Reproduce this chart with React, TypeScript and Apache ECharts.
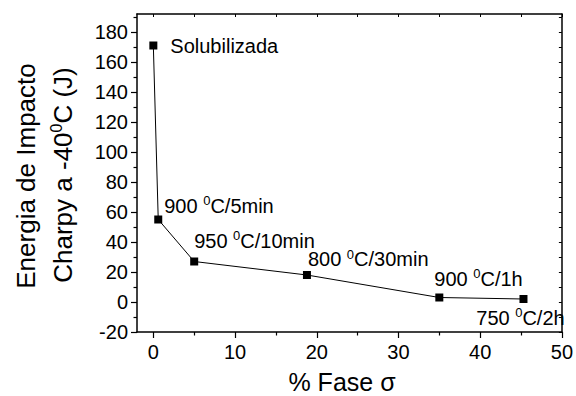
import React, { useEffect, useRef } from "react";
import * as echarts from "echarts";

const phaseFraction = [0, 0.6, 5, 18.8, 35, 45.3];
const impactEnergy = [171, 55, 27, 18, 3, 2];
const pointLabels = [
  "Solubilizada",
  "900 {s|0}C/5min",
  "950 {s|0}C/10min",
  "800 {s|0}C/30min",
  "900 {s|0}C/1h",
  "750 {s|0}C/2h",
];
const xMajorTicks = [0, 10, 20, 30, 40, 50];
const xMinorTicks = [5, 15, 25, 35, 45];
const xTopTicks = [0, 5, 10, 15, 20, 25, 30, 35, 40, 45, 50];
const yMajorTicks = [-20, 0, 20, 40, 60, 80, 100, 120, 140, 160, 180];
const yMinorTicks = [-10, 10, 30, 50, 70, 90, 110, 130, 150, 170, 190];
const yRightTicks = [-20, -10, 0, 10, 20, 30, 40, 50, 60, 70, 80, 90, 100, 110, 120, 130, 140, 150, 160, 170, 180, 190];

const FONT = "'Liberation Sans', Arial, sans-serif";

const labelPlacement: any[] = [
  { position: "right", offset: [8, 0] },
  { position: "right", offset: [-3, -14] },
  { position: "right", offset: [-9, -21] },
  { position: "right", offset: [-8, -16] },
  { position: "right", offset: [-14, -19] },
  { position: "bottom", offset: [-3, -2] },
];

export default function App() {
  const ref = useRef<HTMLDivElement>(null);
  useEffect(() => {
    if (!ref.current) return;
    const chart = echarts.init(ref.current, undefined, { renderer: "svg" });
    const axisLineStyle = { color: "#000", width: 1.5 };
    const tickStyle = { color: "#000", width: 1.2 };
    const xBase = { type: "value", min: -2, max: 50, splitLine: { show: false } };
    const yBase = { type: "value", min: -20, max: 192, splitLine: { show: false } };
    const data = phaseFraction.map((x, i) => ({
      value: [x, impactEnergy[i]],
      label: {
        show: true,
        formatter: pointLabels[i],
        ...labelPlacement[i],
      },
    }));
    chart.setOption({
      animation: false,
      grid: { left: 137, right: 10, top: 14, bottom: 64 },
      xAxis: [
        {
          ...xBase,
          position: "bottom",
          axisLine: { onZero: false, lineStyle: axisLineStyle },
          axisTick: { customValues: xMajorTicks, length: 6, lineStyle: tickStyle },
          axisLabel: { customValues: xMajorTicks, fontSize: 20, color: "#000", margin: 10, fontFamily: FONT },
        },
        {
          ...xBase,
          position: "bottom",
          axisLine: { show: false, onZero: false },
          axisTick: { customValues: xMinorTicks, length: 3.5, lineStyle: tickStyle },
          axisLabel: { show: false },
        },
        {
          ...xBase,
          position: "top",
          axisLine: { onZero: false, lineStyle: axisLineStyle },
          axisTick: { customValues: xTopTicks, length: 3, inside: true, lineStyle: { color: "#000", width: 1 } },
          axisLabel: { show: false },
        },
      ],
      yAxis: [
        {
          ...yBase,
          position: "left",
          axisLine: { onZero: false, lineStyle: axisLineStyle },
          axisTick: { customValues: yMajorTicks, length: 6, lineStyle: tickStyle },
          axisLabel: { customValues: yMajorTicks, fontSize: 20, color: "#000", margin: 9, fontFamily: FONT },
        },
        {
          ...yBase,
          position: "left",
          axisLine: { show: false, onZero: false },
          axisTick: { customValues: yMinorTicks, length: 3.5, lineStyle: tickStyle },
          axisLabel: { show: false },
        },
        {
          ...yBase,
          position: "right",
          axisLine: { onZero: false, lineStyle: axisLineStyle },
          axisTick: { customValues: yRightTicks, length: 3, inside: true, lineStyle: { color: "#000", width: 1 } },
          axisLabel: { show: false },
        },
      ],
      series: [
        {
          type: "line",
          xAxisIndex: 0,
          yAxisIndex: 0,
          data,
          symbol: "rect",
          symbolSize: 8,
          lineStyle: { color: "#000", width: 1 },
          itemStyle: { color: "#000" },
          label: {
            show: true,
            fontSize: 20,
            color: "#000",
            fontFamily: FONT,
            lineHeight: 23,
            rich: { s: { fontSize: 13, verticalAlign: "top", color: "#000", fontFamily: FONT } },
          },
          emphasis: { disabled: true },
        },
      ],
      graphic: [
        {
          type: "text",
          x: 26,
          y: 176,
          rotation: Math.PI / 2,
          style: {
            text: "Energia de Impacto",
            font: `26px ${FONT}`,
            fill: "#000",
            align: "center",
            verticalAlign: "middle",
          },
        },
        {
          type: "text",
          x: 63,
          y: 175,
          rotation: Math.PI / 2,
          style: {
            text: "Charpy a -40{s|0}C (J)",
            font: `26px ${FONT}`,
            fill: "#000",
            align: "center",
            verticalAlign: "middle",
            lineHeight: 30,
            rich: { s: { fontSize: 16, verticalAlign: "top", fill: "#000", fontFamily: FONT } },
          },
        },
        {
          type: "text",
          x: 342,
          y: 382,
          style: {
            text: "% Fase σ",
            font: `25px ${FONT}`,
            fill: "#000",
            align: "center",
            verticalAlign: "middle",
          },
        },
      ],
    });
    return () => chart.dispose();
  }, []);
  return <div ref={ref} style={{ width: 576, height: 396, position: "absolute", left: 0, top: 0 }} />;
}
